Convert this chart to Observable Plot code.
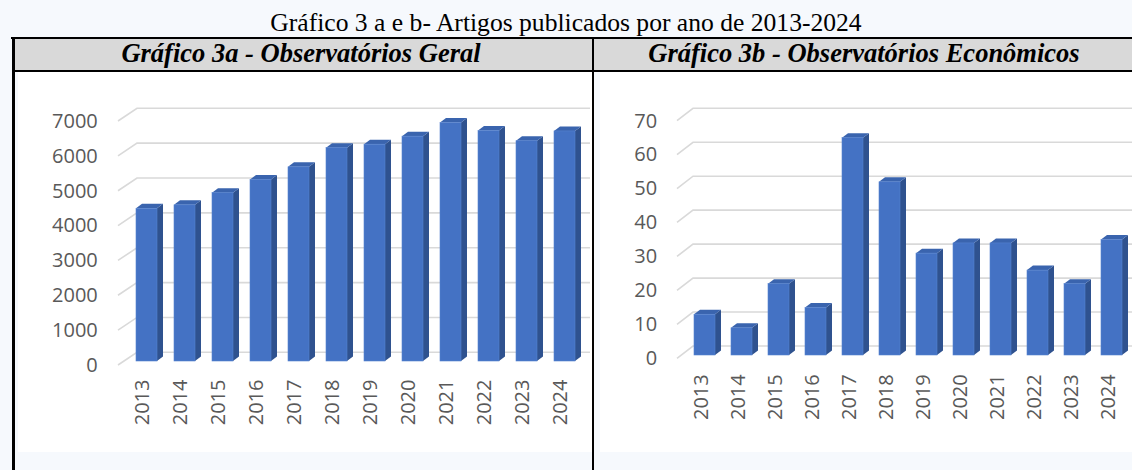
<!DOCTYPE html>
<html><head><meta charset="utf-8">
<script src="https://cdn.jsdelivr.net/npm/d3@7"></script>
<script src="https://cdn.jsdelivr.net/npm/@observablehq/plot@0.6"></script>
<style>
body{margin:0;width:1132px;height:470px;overflow:hidden;background:#f6f9fd;position:relative;font-family:"Liberation Serif","Times New Roman",serif;color:#000;}
#title{position:absolute;left:0;top:9px;width:1132px;text-align:center;font-size:25.6px;line-height:28px;white-space:nowrap;}
.line{position:absolute;background:#000;}
.hbg{position:absolute;top:39px;height:31px;background:#d9d9d9;}
.htxt{position:absolute;top:38px;line-height:31px;font-size:26.5px;font-weight:bold;font-style:italic;text-align:center;white-space:nowrap;}
.panel{position:absolute;top:72px;height:380px;background:#fff;overflow:hidden;}
.panel svg{display:block;}
</style></head><body>
<div id="title">Gráfico 3 a e b- Artigos publicados por ano de 2013-2024</div>
<div class="hbg" style="left:14px;width:578px"></div>
<div class="hbg" style="left:594px;width:560px"></div>
<div class="htxt" style="left:12px;width:578px">Gráfico 3a - Observatórios Geral</div>
<div class="htxt" style="left:594px;width:540px">Gráfico 3b - Observatórios Econômicos</div>
<div id="pa" class="panel" style="left:18px;width:574px"></div>
<div id="pb" class="panel" style="left:600px;width:560px"></div>
<div class="line" style="left:11px;top:37px;width:1130px;height:2px"></div>
<div class="line" style="left:13px;top:70px;width:1130px;height:1.5px"></div>
<div class="line" style="left:12px;top:37px;width:3px;height:440px"></div>
<div class="line" style="left:592px;top:37px;width:2px;height:440px"></div>
<script>
const years = ["2013","2014","2015","2016","2017","2018","2019","2020","2021","2022","2023","2024"];
const geral = [4380, 4480, 4830, 5210, 5570, 6120, 6220, 6450, 6840, 6610, 6320, 6600];
const economicos = [12, 8, 21, 14, 64, 51, 30, 33, 33, 25, 21, 34];
const ticksGeral = [0, 1000, 2000, 3000, 4000, 5000, 6000, 7000];
const ticksEcon = [0, 10, 20, 30, 40, 50, 60, 70];

const FRONT = "#4472c4", SIDE = "#2f528f", TOP = "#3a64ae", GRID = "#d9d9d9";

function grid3d(ticks, o) {
  return (index, scales) => {
    const g = d3.create("svg:g").attr("fill", "none").attr("stroke", GRID).attr("stroke-width", 1.6);
    for (const t of ticks) {
      const y = scales.y(t);
      g.append("polyline").attr("points", `${o.x0},${y} ${o.x0 + o.dx},${y + o.dy} ${o.x1},${y + o.dy}`);
    }
    return g.node();
  };
}
function sides3d(cats, vals, o) {
  return (index, scales) => {
    const g = d3.create("svg:g");
    const bw = scales.x.bandwidth();
    cats.forEach((c, i) => {
      const x0 = scales.x(c), x1 = x0 + bw;
      const yt = scales.y(vals[i]) + o.lift, yb = scales.y(0) + o.lift;
      g.append("path").attr("fill", SIDE)
        .attr("d", `M${x1},${yt}L${x1 + o.dx},${yt + o.dy}L${x1 + o.dx},${yb + o.dy}L${x1},${yb}Z`);
      g.append("path").attr("fill", TOP)
        .attr("d", `M${x0},${yt}L${x0 + o.dx},${yt + o.dy}L${x1 + o.dx},${yt + o.dy}L${x1},${yt}Z`);
    });
    return g.node();
  };
}
function chart(vals, ticks, cfg) {
  const data = years.map((y, i) => ({year: y, value: vals[i]}));
  return Plot.plot({
    width: cfg.width, height: 380,
    marginLeft: cfg.ml, marginRight: cfg.mr, marginTop: cfg.mt, marginBottom: cfg.mb,
    style: {fontFamily: "'Open Sans', sans-serif", fontSize: "20px", color: "#595959", background: "white", overflow: "visible"},
    x: {domain: years, paddingInner: cfg.pi, paddingOuter: 0.3, axis: null, label: null},
    y: {domain: [ticks[0], ticks[ticks.length - 1]], axis: null, label: null},
    marks: [
      grid3d(ticks, cfg.grid),
      sides3d(years, vals, cfg.bar),
      Plot.barY(data, {x: "year", y: "value", fill: FRONT, stroke: "#5683cf", strokeWidth: 0.6, dy: cfg.bar.lift}),
      Plot.axisY(ticks, {tickSize: 0, tickPadding: cfg.ytp, tickFormat: "d", label: null, fontSize: 20, fill: "#595959"}),
      Plot.axisX(years, {tickSize: 0, tickRotate: -90, tickPadding: cfg.xtp, dx: cfg.xdx, label: null, fontSize: 20, fill: "#595959"})
    ]
  });
}
document.getElementById("pa").append(chart(geral, ticksGeral, {
  width: 574, ml: 103.8, mr: 2.7, mt: 49, mb: 87, pi: 0.435,
  grid: {x0: 100, dx: 19, dy: -12.7, x1: 572},
  bar: {lift: -4, dx: 6, dy: -4.5},
  ytp: 24.5, xtp: 14, xdx: -4.7
}));
document.getElementById("pb").append(chart(economicos, ticksEcon, {
  width: 560, ml: 79.45, mr: 24.55, mt: 48.6, mb: 93.7, pi: 0.44,
  grid: {x0: 77, dx: 16, dy: -12.3, x1: 560},
  bar: {lift: -3.3, dx: 6, dy: -4.5},
  ytp: 22.75, xtp: 15.5, xdx: -3.2
}));
</script>
</body></html>
